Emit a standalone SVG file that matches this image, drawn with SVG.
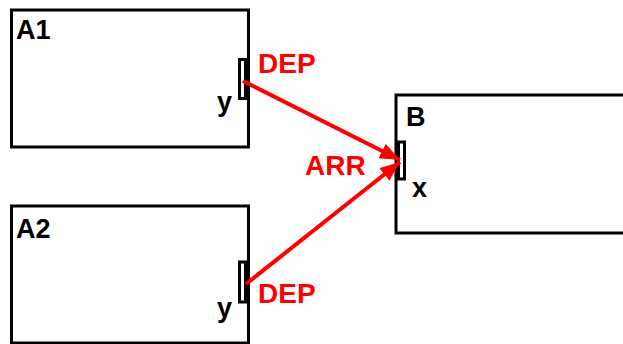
<svg xmlns="http://www.w3.org/2000/svg" width="623" height="344" viewBox="0 0 623 344">
<style>
.box{fill:#fff;stroke:#000;stroke-width:3}
.port{fill:#fff;stroke:#000;stroke-width:3}
.lbl{font-family:"Liberation Sans",Arial,sans-serif;font-weight:bold;font-size:27px;fill:#000}
.red{font-family:"Liberation Sans",Arial,sans-serif;font-weight:bold;font-size:28px;fill:#f00}
.conn{stroke:#f00;stroke-width:4;fill:none}
</style>
<defs>
<marker id="ah" markerUnits="userSpaceOnUse" markerWidth="22" markerHeight="16" refX="20" refY="8" orient="auto">
<path d="M0,0 L20,8 L0,16 Z" fill="#f00"/>
</marker>
</defs>
<rect width="623" height="344" fill="#fff"/>
<g id="A1">
<rect class="box" x="11.5" y="10" width="237" height="137"/>
<rect class="port" x="239.5" y="59.5" width="6" height="39"/>
<text class="lbl" x="16" y="39">A1</text>
<text class="lbl" x="217" y="111">y</text>
</g>
<g id="A2">
<rect class="box" x="11.5" y="206" width="237" height="137"/>
<rect class="port" x="239.5" y="262" width="6" height="40"/>
<text class="lbl" x="16" y="238">A2</text>
<text class="lbl" x="217" y="317">y</text>
</g>
<g id="B">
<rect class="box" x="396" y="95" width="240" height="138"/>
<rect class="port" x="398.5" y="142" width="6" height="37"/>
<text class="lbl" x="406" y="126">B</text>
<text class="lbl" x="412" y="197">x</text>
</g>
<g id="connectors">
<line class="conn" x1="243" y1="81" x2="400" y2="160" marker-end="url(#ah)"/>
<line class="conn" x1="246" y1="284" x2="400" y2="162" marker-end="url(#ah)"/>
<text class="red" x="258" y="73">DEP</text>
<text class="red" x="258" y="303">DEP</text>
<text class="red" x="305" y="175">ARR</text>
</g>
</svg>
